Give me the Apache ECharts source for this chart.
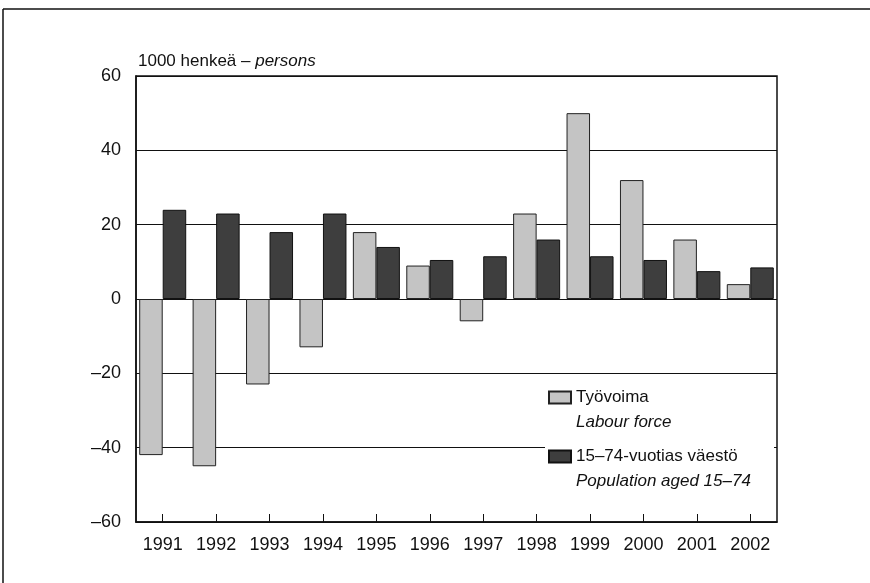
<!DOCTYPE html>
<html>
<head>
<meta charset="utf-8">
<script src="https://cdn.jsdelivr.net/npm/echarts@6/dist/echarts.min.js"></script>
<style>
  html, body { margin: 0; padding: 0; background: #fff; }
  #chart { width: 870px; height: 583px; }
</style>
</head>
<body>
<div id="chart"></div>
<script>
const years = ['1991', '1992', '1993', '1994', '1995', '1996', '1997', '1998', '1999', '2000', '2001', '2002'];
// Työvoima - labour force, 1000 persons
const labourForce = [-42, -45, -23, -13, 18, 9, -6, 23, 50, 32, 16, 4];
// 15-74-vuotias väestö - population aged 15-74
const population = [24, 23, 18, 23, 14, 10.5, 11.5, 16, 11.5, 10.5, 7.5, 8.5];
const yTicks = [-60, -40, -20, 0, 20, 40, 60];

const font = "'Liberation Sans', Arial, sans-serif";

const chart = echarts.init(document.getElementById('chart'));
chart.setOption({
    animation: false,
    backgroundColor: '#fff',
    textStyle: { fontFamily: font, color: '#111' },
    title: {
        left: 133,
        top: 48,
        text: '{a|1000 henkeä – }{b|persons}',
        textStyle: {
            rich: {
                a: { fontFamily: font, fontSize: 17, fontWeight: 'normal', color: '#111' },
                b: { fontFamily: font, fontSize: 17, fontWeight: 'normal', fontStyle: 'italic', color: '#111' }
            }
        }
    },
    grid: {
        left: 136,
        right: 93,
        top: 76,
        bottom: 61,
        show: true,
        borderColor: '#111',
        borderWidth: 1.5
    },
    legend: {
        orient: 'vertical',
        left: 548,
        top: 389,
        padding: 0,
        itemWidth: 22,
        itemHeight: 12,
        itemGap: 17,
        icon: 'rect',
        selectedMode: false,
        formatter: (name) => name === 'Työvoima'
            ? '{a|Työvoima}\n{b|Labour force}'
            : '{a|15–74-vuotias väestö}\n{b|Population aged 15–74}',
        textStyle: {
            padding: [25, 0, 0, 0],
            rich: {
                a: { fontFamily: font, fontSize: 17, lineHeight: 25, color: '#111' },
                b: { fontFamily: font, fontSize: 17, lineHeight: 25, fontStyle: 'italic', color: '#111' }
            }
        },
        itemTextGap: 3,
        data: ['Työvoima', '15–74-vuotias väestö']
    },
    xAxis: {
        type: 'category',
        data: years,
        axisLine: { onZero: false, lineStyle: { color: '#111', width: 1.5 } },
        axisTick: { show: true, inside: true, alignWithLabel: true, length: 8, lineStyle: { color: '#111' } },
        axisLabel: { fontFamily: font, fontSize: 18, color: '#111', margin: 14, interval: 0 }
    },
    yAxis: {
        type: 'value',
        min: -60,
        max: 60,
        interval: 20,
        axisLine: { show: true, lineStyle: { color: '#111', width: 1.5 } },
        axisTick: { show: false },
        splitLine: { lineStyle: { color: '#111', width: 1.2 } },
        axisLabel: {
            fontFamily: font,
            fontSize: 18,
            color: '#111',
            margin: 15,
            formatter: (v) => yTicks.indexOf(v) >= 0 ? String(v).replace('-', '–') : ''
        }
    },
    series: [
        {
            name: 'Työvoima',
            type: 'bar',
            data: labourForce,
            barGap: '0%',
            barCategoryGap: '12%',
            itemStyle: { color: '#c4c4c4', borderColor: '#222', borderWidth: 1 }
        },
        {
            name: '15–74-vuotias väestö',
            type: 'bar',
            data: population,
            itemStyle: { color: '#3e3e3e', borderColor: '#111', borderWidth: 1 }
        }
    ],
    graphic: [
        // white box behind the legend
        { type: 'rect', z: 3, shape: { x: 545, y: 384, width: 229, height: 112 }, style: { fill: '#fff' } },
        // outer frame (top and left edges)
        { type: 'line', shape: { x1: 3, y1: 9, x2: 870, y2: 9 }, style: { stroke: '#111', lineWidth: 1.5 } },
        { type: 'line', shape: { x1: 3, y1: 9, x2: 3, y2: 583 }, style: { stroke: '#111', lineWidth: 1.5 } }
    ]
});
</script>
</body>
</html>
